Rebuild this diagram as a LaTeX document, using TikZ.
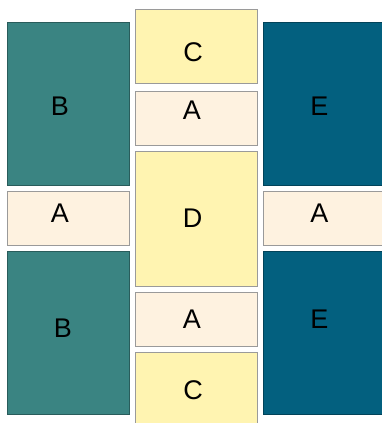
\documentclass[tikz,border=0pt]{standalone}
\usepackage{fontspec}
\setmainfont{Liberation Sans}
\usepackage{tikz}
\usetikzlibrary{positioning}
\usepackage{xcolor}
\definecolor{tealB}{HTML}{3A8482}
\definecolor{blueE}{HTML}{03607F}
\definecolor{sandC}{HTML}{FFF4B1}
\definecolor{creamA}{HTML}{FEF2E0}
\definecolor{edge}{HTML}{9A9A9A}

\begin{document}
\begin{tikzpicture}[
  x=1pt,y=-1pt,
  node distance=6pt,
  box/.style={draw=edge,line width=0.8pt,inner sep=0pt,outer sep=0pt,minimum width=122pt},
  tallB/.style={box,fill=tealB,draw=tealB!70!black,minimum height=163pt},
  tallE/.style={box,fill=blueE,draw=blueE!70!black,minimum height=163pt},
  strip/.style={box,fill=creamA,minimum height=54pt},
  sandbox/.style={box,fill=sandC,minimum height=74pt},
  tag/.style={inner sep=0pt,font=\fontsize{27}{30}\selectfont}
]
\useasboundingbox (0,0) rectangle (382,423);
\clip (0,0) rectangle (382,423);
% left column
\node[tallB] (btop) at (68,103.5) {};
\node[strip,below=of btop] (aleft) {};
\node[tallB,below=of aleft] (bbot) {};
% middle column
\node[sandbox] (ctop) at (196,46) {};
\node[strip,below=8pt of ctop] (amidtop) {};
\node[box,fill=sandC,minimum height=135pt,below=of amidtop] (dmid) {};
\node[strip,below=of dmid] (amidbot) {};
\node[sandbox,below=of amidbot] (cbot) {};
% right column
\node[tallE] (etop) at (324,103.5) {};
\node[strip,below=of etop] (aright) {};
\node[tallE,below=of aright] (ebot) {};
% letters, a little off centre as in the sketch
\node[tag] (btoptxt) at ([shift={(-8,2.5)}]btop.center) {B};
\node[tag] (alefttxt) at ([shift={(-8,-5)}]aleft.center) {A};
\node[tag] (bbottxt) at ([shift={(-5,-4.5)}]bbot.center) {B};
\node[tag] (ctoptxt) at ([shift={(-3,6)}]ctop.center) {C};
\node[tag] (amidtoptxt) at ([shift={(-4,-7.5)}]amidtop.center) {A};
\node[tag] (dmidtxt) at ([shift={(-3.5,0)}]dmid.center) {D};
\node[tag] (amidbottxt) at ([shift={(-4,0)}]amidbot.center) {A};
\node[tag] (cbottxt) at ([shift={(-3,1)}]cbot.center) {C};
\node[tag] (etoptxt) at ([shift={(-4.5,2.5)}]etop.center) {E};
\node[tag] (arighttxt) at ([shift={(-4.5,-5)}]aright.center) {A};
\node[tag] (ebottxt) at ([shift={(-4.5,-13.5)}]ebot.center) {E};
\end{tikzpicture}
\end{document}
